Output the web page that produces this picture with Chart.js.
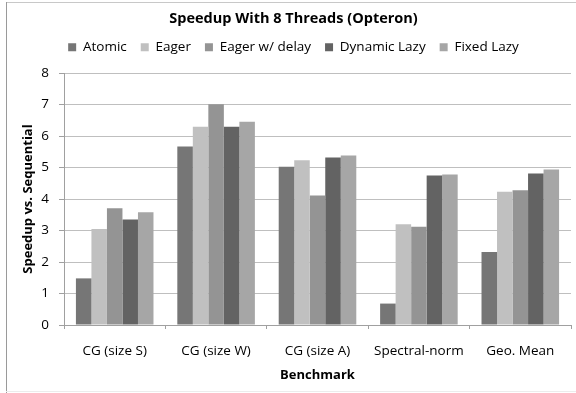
<!DOCTYPE html>
<html>
<head>
<meta charset="utf-8">
<script src="https://cdn.jsdelivr.net/npm/chart.js@4/dist/chart.umd.min.js"></script>
<style>
  html, body { margin: 0; padding: 0; background: #fff; }
  #wrap { width: 576px; height: 393px; }
</style>
</head>
<body>
<div id="wrap"><canvas id="chart" width="576" height="393"></canvas></div>
<script>
// ---------------- Data ----------------
const benchmarks = ['CG (size S)', 'CG (size W)', 'CG (size A)', 'Spectral-norm', 'Geo. Mean'];
const atomic      = [1.48, 5.67, 5.02, 0.68, 2.32];
const eager       = [3.05, 6.29, 5.23, 3.20, 4.23];
const eagerDelay  = [3.71, 7.01, 4.11, 3.12, 4.28];
const dynamicLazy = [3.35, 6.29, 5.32, 4.75, 4.81];
const fixedLazy   = [3.58, 6.45, 5.38, 4.78, 4.94];
const yTicks = [0, 1, 2, 3, 4, 5, 6, 7, 8];

const FONT = "'Open Sans', 'DejaVu Sans', sans-serif";
const axisGray = '#a0a0a0';
const gridGray = '#bfbfbf';

// white page + thin frame like the original export
const framePlugin = {
  id: 'frame',
  beforeDraw(chart) {
    const c = chart.ctx;
    c.save();
    c.fillStyle = '#fff';
    c.fillRect(0, 0, chart.width, chart.height);
    c.lineWidth = 1;
    c.strokeStyle = '#c8c8c8';
    c.beginPath(); c.moveTo(6, 2.5); c.lineTo(chart.width, 2.5); c.stroke();
    c.strokeStyle = '#9a9a9a';
    c.beginPath(); c.moveTo(6.5, 2); c.lineTo(6.5, chart.height); c.stroke();
    c.strokeStyle = '#ececec';
    c.beginPath(); c.moveTo(6, 391.5); c.lineTo(chart.width, 391.5); c.stroke();
    c.restore();
  }
};

// legend items are spaced wide, but the legend block itself stays short
const legendHeightPlugin = {
  id: 'legendHeight',
  beforeInit(chart) {
    const lg = chart.legend;
    if (!lg) return;
    const origFit = lg.fit;
    lg.fit = function () {
      origFit.bind(lg)();
      this.height = 46.6;
    };
  }
};

const ds = (label, data, color) => ({
  label, data,
  backgroundColor: color,
  borderWidth: 0,
  categoryPercentage: 0.765,
  barPercentage: 1.0
});

new Chart(document.getElementById('chart'), {
  type: 'bar',
  data: {
    labels: benchmarks,
    datasets: [
      ds('Atomic', atomic, '#767676'),
      ds('Eager', eager, '#c0c0c0'),
      ds('Eager w/ delay', eagerDelay, '#949494'),
      ds('Dynamic Lazy', dynamicLazy, '#636363'),
      ds('Fixed Lazy', fixedLazy, '#a6a6a6')
    ]
  },
  options: {
    responsive: false,
    animation: false,
    layout: { padding: { left: 16, right: 5, top: 0, bottom: 0 } },
    plugins: {
      title: {
        display: true,
        text: 'Speedup With 8 Threads (Opteron)',
        color: '#000',
        font: { family: FONT, size: 14.5, weight: 'bold' },
        padding: { top: 10.5, bottom: -1.5 }
      },
      legend: {
        display: true,
        position: 'top',
        labels: {
          color: '#000',
          font: { family: FONT, size: 13.5 },
          boxWidth: 8,
          boxHeight: 8,
          padding: 14
        }
      },
      tooltip: { enabled: false }
    },
    scales: {
      x: {
        offset: true,
        grid: {
          offset: true,
          drawOnChartArea: false,
          drawTicks: true,
          tickLength: 4,
          tickColor: axisGray
        },
        border: { color: axisGray },
        ticks: {
          color: '#000',
          font: { family: FONT, size: 13.5 },
          padding: 14,
          maxRotation: 0
        },
        title: {
          display: true,
          text: 'Benchmark',
          color: '#000',
          font: { family: FONT, size: 13, weight: 'bold' },
          padding: { top: 0, bottom: 10 }
        },
        afterFit(scale) { scale.height = 68; }
      },
      y: {
        min: 0,
        max: 8,
        afterBuildTicks(scale) { scale.ticks = yTicks.map(v => ({ value: v })); },
        grid: {
          color: gridGray,
          drawTicks: true,
          tickLength: 5,
          tickColor: axisGray
        },
        border: { color: axisGray },
        ticks: {
          color: '#000',
          font: { family: FONT, size: 13.5 },
          padding: 10
        },
        title: {
          display: true,
          text: 'Speedup vs. Sequential',
          color: '#000',
          font: { family: FONT, size: 13, weight: 'bold' },
          padding: { top: 4, bottom: 0 }
        },
        afterFit(scale) { scale.width = 48; }
      }
    }
  },
  plugins: [framePlugin, legendHeightPlugin]
});
</script>
</body>
</html>
